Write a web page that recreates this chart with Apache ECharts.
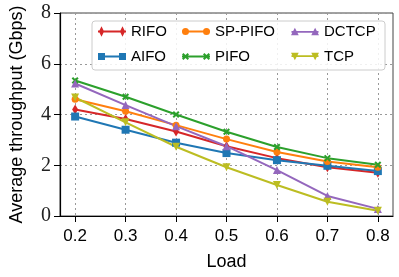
<!DOCTYPE html>
<html><head><meta charset="utf-8">
<script src="https://cdn.jsdelivr.net/npm/echarts@6/dist/echarts.min.js"></script>
<style>html,body{margin:0;padding:0;background:#fff}#c{width:399px;height:277px}</style>
</head><body><div id="c"></div>
<script>
const loads = [0.2, 0.3, 0.4, 0.5, 0.6, 0.7, 0.8];
const yTicks = [0, 2, 4, 6, 8];
const rifo   = [4.20, 3.82, 3.33, 2.75, 2.28, 1.92, 1.70];
const aifo   = [3.92, 3.40, 2.89, 2.48, 2.20, 1.98, 1.77];
const sppifo = [4.60, 4.13, 3.58, 3.03, 2.52, 2.15, 1.92];
const pifo   = [5.34, 4.70, 4.00, 3.32, 2.72, 2.28, 2.02];
const dctcp  = [5.22, 4.37, 3.54, 2.75, 1.81, 0.79, 0.28];
const tcp    = [4.67, 3.69, 2.73, 1.92, 1.22, 0.56, 0.21];

const pair = arr => arr.map((v, i) => [loads[i], v]);
const X_PATH = 'path://M2,0 L5,3 L8,0 L10,2 L7,5 L10,8 L8,10 L5,7 L2,10 L0,8 L3,5 L0,2 Z';
const sans = 'Liberation Sans, Arial, sans-serif';

// legend icons: line with a marker at both ends (28 x 12 box)
const W = 28, C1 = 3.5, C2 = 24.5;
const lineP = `M0,5.1 L${W},5.1 L${W},6.9 L0,6.9 Z `;
const diamondAt = c => `M${c-2.6},6 L${c},0.8 L${c+2.6},6 L${c},11.2 Z `;
const squareAt = c => `M${c-3.5},2.5 L${c+3.5},2.5 L${c+3.5},9.5 L${c-3.5},9.5 Z `;
const circleAt = c => `M${c-3.5},6 A3.5,3.5 0 1,1 ${c+3.5},6 A3.5,3.5 0 1,1 ${c-3.5},6 Z `;
const xAt = c => { const s = 0.7, o = c - 3.5, t = 2.5; const pts = [[2,0],[5,3],[8,0],[10,2],[7,5],[10,8],[8,10],[5,7],[2,10],[0,8],[3,5],[0,2]];
  return 'M' + pts.map(p => `${(o + p[0]*s).toFixed(2)},${(t + p[1]*s).toFixed(2)}`).join(' L') + ' Z '; };
const triUpAt = c => `M${c},1.8 L${c+4},9.5 L${c-4},9.5 Z `;
const triDnAt = c => `M${c-4},2.5 L${c+4},2.5 L${c},10.2 Z `;
const icon = f => 'path://' + lineP + f(C1) + f(C2);

function mk(name, data, color, symbol, size, rot) {
  return {
    name, type: 'line', data: pair(data), color,
    symbol, symbolSize: size, symbolRotate: rot || 0,
    lineStyle: { width: 2, color }, itemStyle: { color },
    animation: false, z: 3
  };
}

const chart = echarts.init(document.getElementById('c'), null, { renderer: 'canvas' });
const legendCommon = {
  orient: 'vertical', top: 24, itemWidth: W, itemHeight: 12, itemGap: 10,
  textStyle: { fontFamily: sans, fontSize: 15, color: '#000' },
  padding: 0, z: 6
};
chart.setOption({
  animation: false,
  grid: { left: 53, right: 6, top: 13, bottom: 61, show: true, borderColor: '#444', borderWidth: 1 },
  xAxis: {
    type: 'value', min: 0.17, max: 0.83,
    name: 'Load', nameLocation: 'middle', nameGap: 37,
    nameTextStyle: { fontFamily: sans, fontSize: 18, color: '#000' },
    axisLine: { show: true, onZero: false, lineStyle: { color: '#000', width: 1.2 } },
    axisTick: { show: true, inside: false, length: 6, customValues: loads, lineStyle: { color: '#000' } },
    axisLabel: { customValues: loads, fontFamily: sans, fontSize: 17, color: '#000', margin: 12,
                 formatter: v => v.toFixed(1) },
    splitLine: { show: true, lineStyle: { type: [2, 3], color: '#999', width: 1 } }
  },
  yAxis: {
    type: 'value', min: 0, max: 8, interval: 2,
    name: 'Average throughput (Gbps)', nameLocation: 'middle', nameGap: 34, nameRotate: 90,
    nameTextStyle: { fontFamily: sans, fontSize: 18, color: '#000' },
    axisLine: { show: true, lineStyle: { color: '#000', width: 1.2 } },
    axisTick: { show: true, length: 6, lineStyle: { color: '#000' } },
    axisLabel: { customValues: yTicks, fontFamily: 'Liberation Serif, serif', fontSize: 20, color: '#222', margin: 9 },
    splitLine: { show: true, lineStyle: { type: [2, 3], color: '#999', width: 1 } }
  },
  legend: [
    Object.assign({}, legendCommon, { left: 98, data: [
      { name: 'RIFO', icon: icon(diamondAt) }, { name: 'AIFO', icon: icon(squareAt) } ] }),
    Object.assign({}, legendCommon, { left: 182, data: [
      { name: 'SP-PIFO', icon: icon(circleAt) }, { name: 'PIFO', icon: icon(xAt) } ] }),
    Object.assign({}, legendCommon, { left: 291, data: [
      { name: 'DCTCP', icon: icon(triUpAt) }, { name: 'TCP', icon: icon(triDnAt) } ] })
  ],
  graphic: [{
    type: 'rect', shape: { x: 92, y: 21, width: 293, height: 49, r: 3 },
    style: { fill: 'rgba(255,255,255,0.85)', stroke: '#ccc', lineWidth: 1 }, z: 5
  }],
  series: [
    mk('RIFO', rifo, '#d62728', 'diamond', [6, 10]),
    mk('AIFO', aifo, '#1f77b4', 'rect', 8),
    mk('SP-PIFO', sppifo, '#ff7f0e', 'circle', 7),
    mk('PIFO', pifo, '#2ca02c', X_PATH, 7),
    mk('DCTCP', dctcp, '#9467bd', 'triangle', 8),
    mk('TCP', tcp, '#bcbd22', 'triangle', 8, 180)
  ]
});
</script></body></html>
